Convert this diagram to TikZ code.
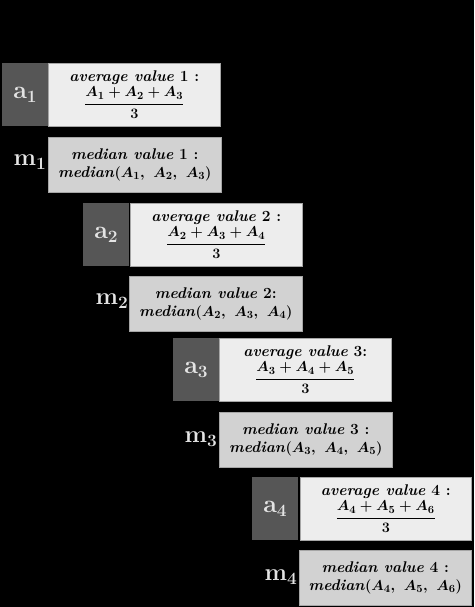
\documentclass[tikz,border=0pt]{standalone}
\usepackage{amsmath}
\definecolor{darkbox}{HTML}{565656}
\definecolor{lightbox}{HTML}{EDEDED}
\definecolor{medbox}{HTML}{D2D2D2}
\definecolor{labelcol}{HTML}{E4E4E4}
\begin{document}
\begin{tikzpicture}[x=1pt,y=-1pt,
  abox/.style={fill=darkbox,draw=none,inner sep=0pt,anchor=north west,minimum width=46pt,minimum height=63pt,text=labelcol,font=\fontsize{25}{28}\selectfont\bfseries\boldmath},
  avgbox/.style={fill=lightbox,draw=gray!70,line width=0.6pt,inner sep=0pt,anchor=north west,minimum width=172pt,minimum height=63pt,align=center,font=\fontsize{15.5}{18}\selectfont\bfseries\boldmath},
  medianbox/.style={fill=medbox,draw=gray!70,line width=0.6pt,inner sep=0pt,anchor=north west,minimum width=173pt,minimum height=55pt,align=center,font=\fontsize{15.5}{18.5}\selectfont\bfseries\boldmath},
  mlabel/.style={text=labelcol,inner sep=0pt,font=\fontsize{24}{28}\selectfont\bfseries\boldmath}]
\fill[black] (0,0) rectangle (474,607);
\useasboundingbox (0,0) rectangle (474,607);
% row 1
\node[abox] (a1) at (2,63) {a$_{\mathbf 1}$};
\node[avgbox] (v1) at (48,63) {\textit{average value} 1 :\\[1pt]$\dfrac{A_1+A_2+A_3}{3}$};
\node[medianbox] (d1) at (48,137) {\textit{median value} 1 :\\\textit{median}$(A_1,\ A_2,\ A_3)$};
\node[mlabel] (m1) at (30,162) {m$_{\mathbf 1}$};
% row 2
\node[abox] (a2) at (83,203) {a$_{\mathbf 2}$};
\node[avgbox] (v2) at (130,203) {\textit{average value} 2 :\\[1pt]$\dfrac{A_2+A_3+A_4}{3}$};
\node[medianbox] (d2) at (129,276) {\textit{median value} 2:\\\textit{median}$(A_2,\ A_3,\ A_4)$};
\node[mlabel] (m2) at (112,301) {m$_{\mathbf 2}$};
% row 3
\node[abox] (a3) at (173,338) {a$_{\mathbf 3}$};
\node[avgbox] (v3) at (219,338) {\textit{average value} 3:\\[1pt]$\dfrac{A_3+A_4+A_5}{3}$};
\node[medianbox] (d3) at (219,412) {\textit{median value} 3 :\\\textit{median}$(A_3,\ A_4,\ A_5)$};
\node[mlabel] (m3) at (201,439) {m$_{\mathbf 3}$};
% row 4
\node[abox] (a4) at (252,477) {a$_{\mathbf 4}$};
\node[avgbox,minimum width=171pt] (v4) at (300,477) {\textit{average value} 4 :\\[1pt]$\dfrac{A_4+A_5+A_6}{3}$};
\node[medianbox,minimum width=172pt] (d4) at (299,550) {\textit{median value} 4 :\\\textit{median}$(A_4,\ A_5,\ A_6)$};
\node[mlabel] (m4) at (281,577) {m$_{\mathbf 4}$};
\end{tikzpicture}
\end{document}
